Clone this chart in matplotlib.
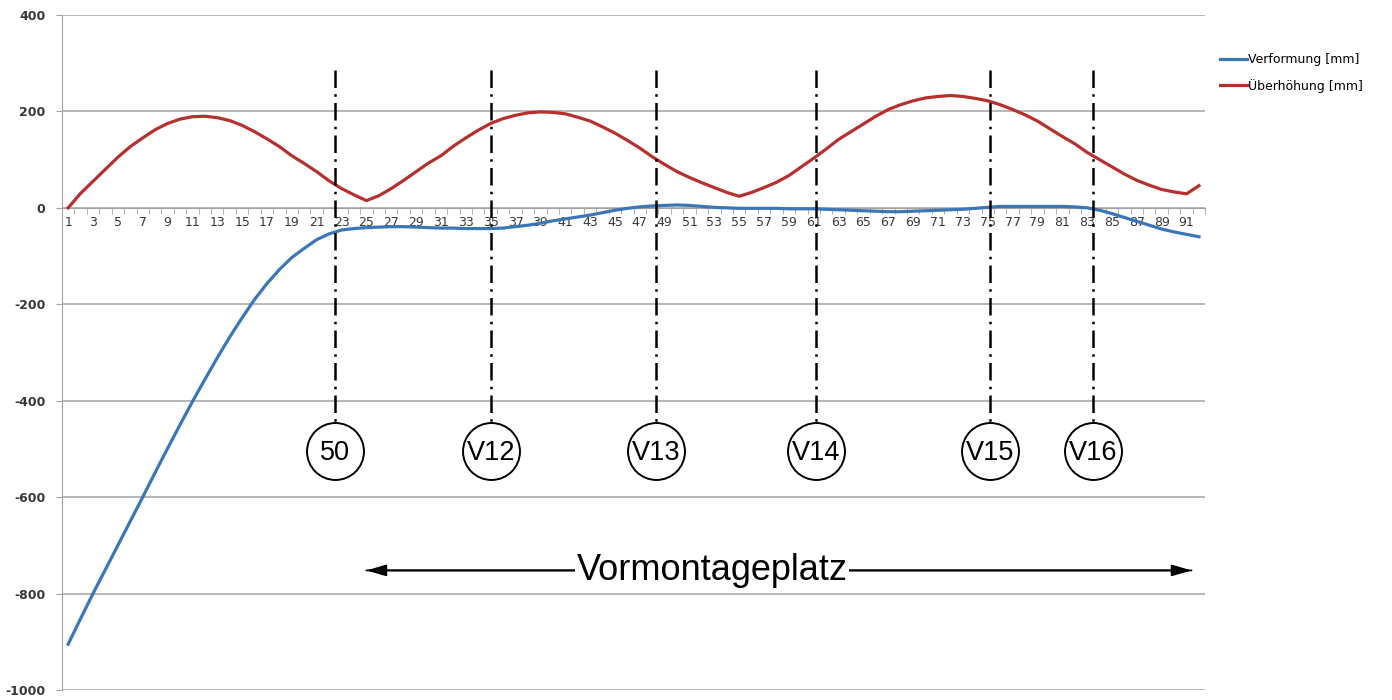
import matplotlib
matplotlib.use('Agg')
import matplotlib.pyplot as plt
import numpy as np

plt.rcParams['axes.unicode_minus'] = False

# Messpunkte 1..92
punkte = np.arange(1, 93)

verformung = [-905, -852, -800, -750, -700, -650, -600, -549, -499, -450,
              -402, -356, -311, -268, -228, -190, -157, -128, -103, -84,
              -66, -54, -46, -43, -41, -40, -39, -39, -40, -41,
              -42, -42, -43, -43, -43, -42, -39, -36, -32, -27,
              -23, -19, -15, -10, -5, -1, 2, 4, 5, 6,
              5, 3, 1, 0, -1, -1, -1, -1, -2, -2,
              -2, -3, -4, -5, -6, -7, -8, -8, -7, -6,
              -5, -4, -3, -1, 1, 3, 3, 3, 3, 3,
              3, 2, 0, -5, -12, -20, -28, -36, -44, -50,
              -55, -60]

ueberhoehung = [0, 30, 55, 80, 105, 127, 145, 162, 175, 184,
                189, 190, 187, 181, 171, 158, 143, 127, 108, 92,
                75, 56, 40, 27, 15, 25, 40, 57, 75, 93,
                108, 128, 145, 161, 175, 185, 192, 197, 199, 198,
                195, 188, 180, 168, 155, 140, 124, 106, 90, 75,
                63, 52, 42, 32, 24, 32, 42, 53, 67, 85,
                103, 122, 142, 158, 174, 190, 204, 214, 222, 228,
                231, 233, 231, 227, 222, 214, 204, 193, 180, 164,
                148, 133, 115, 100, 85, 70, 57, 47, 38, 33,
                29, 46]

# Vorspannstellen / Achsen
achsen_x = [22.5, 35.0, 48.3, 61.2, 75.2, 83.5]
achsen_namen = ['50', 'V12', 'V13', 'V14', 'V15', 'V16']

grau = '#a3a3a3'
txt = '#383838'

fig = plt.figure(figsize=(13.92, 7.0), dpi=100)
ax = fig.add_axes([0.0445, 0.0143, 0.8213, 0.9643])

ax.plot(punkte, verformung, color='#3b77b6', lw=2.3, label='Verformung [mm]', zorder=3)
ax.plot(punkte, ueberhoehung, color='#b5302e', lw=2.3, label='Überhöhung [mm]', zorder=3)

ax.set_xlim(0.5, 92.5)
ax.set_ylim(-1000, 400)
ax.set_yticks(np.arange(-1000, 401, 200))
ax.yaxis.grid(True, color=grau, lw=1.1)
ax.set_axisbelow(True)

for s in ['top', 'right']:
    ax.spines[s].set_visible(False)
ax.spines['left'].set_color(grau)
ax.spines['bottom'].set_position(('data', 0))
ax.spines['bottom'].set_color(grau)

ax.set_xticks(np.arange(1, 92, 2))
ax.set_xticks(np.arange(0.5, 93, 1), minor=True)
ax.tick_params(axis='x', which='major', length=0, pad=6, labelsize=9, labelcolor=txt)
ax.tick_params(axis='x', which='minor', length=4, color=grau, direction='out')
ax.tick_params(axis='y', length=4, color=grau, labelsize=9, labelcolor=txt, pad=8)
for lab in ax.get_yticklabels():
    lab.set_fontweight('bold')

# Achslinien mit Kreisen
for xa, name in zip(achsen_x, achsen_namen):
    ax.plot([xa, xa], [285, -446], color='black', lw=1.8,
            linestyle=(0, (7, 2.5, 1, 2.5)), zorder=4)
    ax.plot(xa, -505, marker='o', ms=41, mfc='white', mec='black', mew=1.4, zorder=5)
    ax.text(xa, -508, name, ha='center', va='center', fontsize=19.5,
            family='Liberation Sans', zorder=6)

# Vormontageplatz
pfeil = dict(arrowstyle='-|>,head_length=1.2,head_width=0.35',
             color='black', lw=1.3, shrinkA=0, shrinkB=0)
ax.annotate('', xy=(91.4, -752), xytext=(25.0, -752), arrowprops=pfeil, zorder=4)
ax.annotate('', xy=(25.0, -752), xytext=(91.4, -752), arrowprops=pfeil, zorder=4)
ax.text(52.8, -752, 'Vormontageplatz', ha='center', va='center', fontsize=26,
        family='Liberation Sans', zorder=6,
        bbox=dict(boxstyle='square,pad=0.05', fc='white', ec='none'))

fig.legend(loc='upper left', bbox_to_anchor=(0.868, 0.94), frameon=False,
           fontsize=9, handlelength=2.2, handletextpad=0.1, labelspacing=1.0)

fig.savefig('out.png', dpi=100)
